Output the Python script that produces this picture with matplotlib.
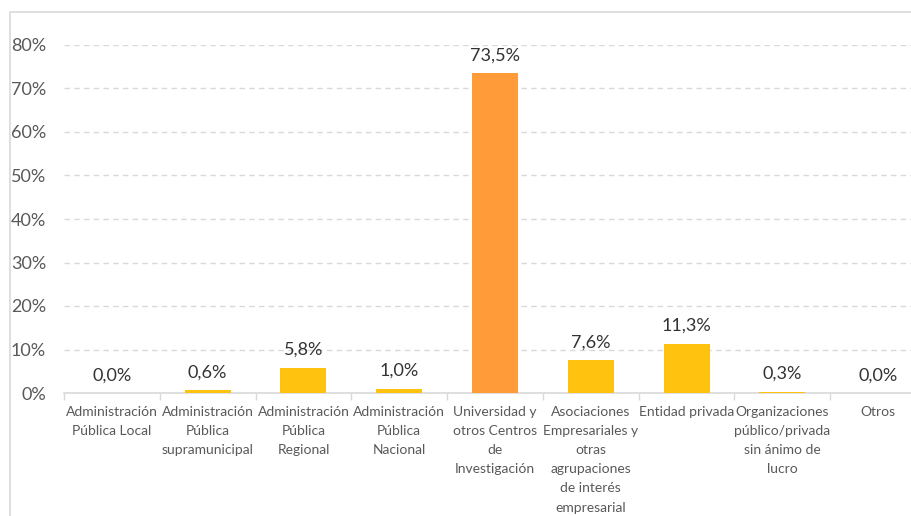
import matplotlib.pyplot as plt
import numpy as np
from matplotlib.patches import Rectangle

# categorías y valores (%)
categorias = [
    'Administración\nPública Local',
    'Administración\nPública\nsupramunicipal',
    'Administración\nPública\nRegional',
    'Administración\nPública\nNacional',
    'Universidad y\notros Centros\nde\nInvestigación',
    'Asociaciones\nEmpresariales y\notras\nagrupaciones\nde interés\nempresarial',
    'Entidad privada',
    'Organizaciones\npúblico/privada\nsin ánimo de\nlucro',
    'Otros',
]
valores = [0.0, 0.6, 5.8, 1.0, 73.5, 7.6, 11.3, 0.3, 0.0]
colores = ['#FFC20E', '#FFC20E', '#FFC20E', '#FFC20E', '#FF9B38',
           '#FFC20E', '#FFC20E', '#FFC20E', '#FFC20E']
yticks = [0, 10, 20, 30, 40, 50, 60, 70, 80]

plt.rcParams['font.family'] = ['Lato', 'DejaVu Sans']

fig = plt.figure(figsize=(9.12, 5.16), dpi=100)
# borde del gráfico (cortado a la derecha y abajo)
fig.patches.append(Rectangle((10 / 912, -0.1), 1.2, 1 - 12 / 516 + 0.1,
                             transform=fig.transFigure, fill=False,
                             edgecolor='#D9D9D9', linewidth=1.2))

ax = fig.add_axes([64 / 912, 1 - 393 / 516, 862 / 912, 348 / 516])
x = np.arange(len(categorias))
ax.bar(x, valores, width=0.48, color=colores, zorder=3)

for xi, v in zip(x, valores):
    ax.annotate(f'{v:.1f}%'.replace('.', ','), (xi, v), xytext=(0, 7),
                textcoords='offset points', ha='center', va='bottom',
                fontsize=13, color='#333333')

ax.set_xlim(-0.5, len(categorias) - 0.5)
ax.set_ylim(0, 80)
ax.set_yticks(yticks)
ax.set_yticklabels([f'{t}%' for t in yticks], fontsize=13, color='#595959')
ax.tick_params(axis='y', length=0, pad=13)

ax.set_xticks(x)
ax.set_xticklabels(categorias, fontsize=10, color='#595959', linespacing=1.72)
ax.set_xticks(np.arange(len(categorias) + 1) - 0.5, minor=True)
ax.tick_params(axis='x', which='major', length=0, pad=9)
ax.tick_params(axis='x', which='minor', length=5, color='#D9D9D9', width=1)

ax.grid(axis='y', linestyle=(0, (4, 3)), color='#D9D9D9', linewidth=1, zorder=0)
for s in ['left', 'right', 'top']:
    ax.spines[s].set_visible(False)
ax.spines['bottom'].set_color('#D9D9D9')
ax.spines['bottom'].set_linewidth(1.2)

fig.savefig('out.png', dpi=100)
